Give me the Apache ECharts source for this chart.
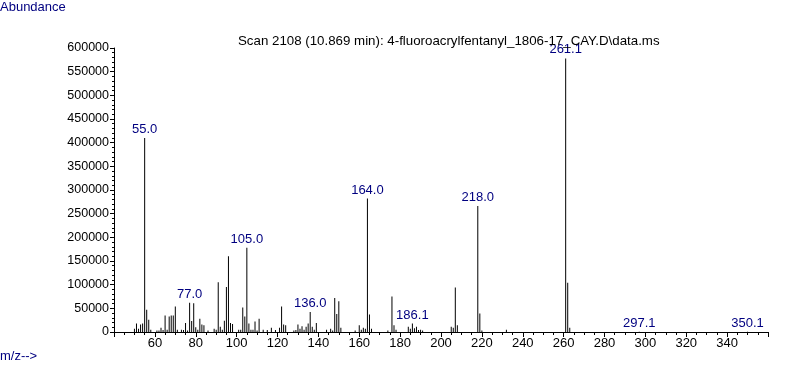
<!DOCTYPE html>
<html>
<head>
<meta charset="utf-8">
<script src="https://cdn.jsdelivr.net/npm/echarts@6/dist/echarts.min.js"></script>
<style>
html,body{margin:0;padding:0;background:#fff;}
#chart{width:787px;height:367px;}
</style>
</head>
<body>
<div id="chart"></div>
<script>
var titleText = 'Scan 2108 (10.869 min): 4-fluoroacrylfentanyl_1806-17_CAY.D\\data.ms';
var masses = [50,51,52,53,54,55,56,57,58,61,62,63,64,65,66,67,68,69,70,71,73,74,75,76,77,78,79,80,81,82,83,84,86,89,90,91,92,93,94,95,96,97,98,101,102,103,104,105,106,107,108,109,110,111,113,115,117,119,121,122,123,124,128,129,130,131,132,133,134,135,136,137,138,139,144,146,147,148,149,150,151,158,160,161,162,163,164,165,166,174,176,177,178,184,185,186,187,188,189,190,191,205,206,207,208,218,219,220,232,261,262,263,297,350];
var abundances = [7000,18000,7000,16000,18000,410000,47000,26000,5000,3000,3000,9000,4000,35000,5000,33000,35000,35000,54000,5000,5000,4000,19000,3000,62000,23000,61000,10000,5000,28000,16000,14000,3000,7000,5000,105000,11000,5000,24000,95000,160000,19000,17000,5000,5000,52000,33000,178000,18000,5000,5000,22000,3000,28000,5000,4000,9000,4000,9000,54000,16000,14000,3000,4000,16000,7000,12000,5000,11000,18000,42000,11000,5000,19000,5000,7000,3000,72000,38000,65000,9000,3000,14000,5000,9000,7000,282000,37000,7000,3000,75000,14000,5000,11000,7000,18000,8000,11000,4000,5000,3000,11000,9000,94000,14000,266000,39000,3000,5000,578000,104000,9000,700,600];
var labelMasses = [55,77,105,136,164,186,218,261,297,350];
var labelTexts = ['55.0','77.0','105.0','136.0','164.0','186.1','218.0','261.1','297.1','350.1'];

var data = masses.map(function(m, i){
  var li = labelMasses.indexOf(m);
  var item = {value: [m, abundances[i]]};
  if (li >= 0) {
    item.label = {show: true, formatter: labelTexts[li]};
  }
  return item;
});

var chart = echarts.init(document.getElementById('chart'), null, {renderer: 'canvas'});
chart.setOption({
  animation: false,
  backgroundColor: '#ffffff',
  title: {
    text: titleText,
    left: 233, top: 30,
    textStyle: {fontFamily: 'Liberation Sans, Arial', fontSize: 13.3, fontWeight: 'normal', color: '#000000'}
  },
  graphic: [
    {type: 'text', left: 0, top: 1, style: {text: 'Abundance', fill: '#000080', font: '13px "Liberation Sans", Arial'}},
    {type: 'text', left: 0, top: 350, style: {text: 'm/z-->', fill: '#000080', font: '13px "Liberation Sans", Arial'}}
  ],
  grid: {left: 114, right: 19, top: 48, bottom: 35, containLabel: false},
  xAxis: {
    type: 'value', min: 40, max: 360, interval: 20,
    axisLine: {show: true, lineStyle: {color: '#000', width: 1}},
    axisTick: {show: true, length: 5, lineStyle: {color: '#000'}},
    minorTick: {show: true, splitNumber: 4, length: 3, lineStyle: {color: '#000'}},
    axisLabel: {showMinLabel: false, showMaxLabel: false, color: '#000', fontFamily: 'Liberation Sans, Arial', fontSize: 13, margin: 5},
    splitLine: {show: false}
  },
  yAxis: {
    type: 'value', min: 0, max: 600000, interval: 50000,
    axisLine: {show: true, lineStyle: {color: '#000', width: 1}},
    axisTick: {show: true, length: 4, lineStyle: {color: '#000'}},
    minorTick: {show: true, splitNumber: 5, length: 2, lineStyle: {color: '#000'}},
    axisLabel: {color: '#000', fontFamily: 'Liberation Sans, Arial', fontSize: 12.5, margin: 5,
      formatter: function(v){ return String(v); }},
    splitLine: {show: false}
  },
  series: [{
    type: 'bar',
    barWidth: 1,
    itemStyle: {color: '#000000'},
    label: {show: false, position: 'top', distance: 2, color: '#000080', fontFamily: 'Liberation Sans, Arial', fontSize: 13},
    data: data
  }]
});
</script>
</body>
</html>
